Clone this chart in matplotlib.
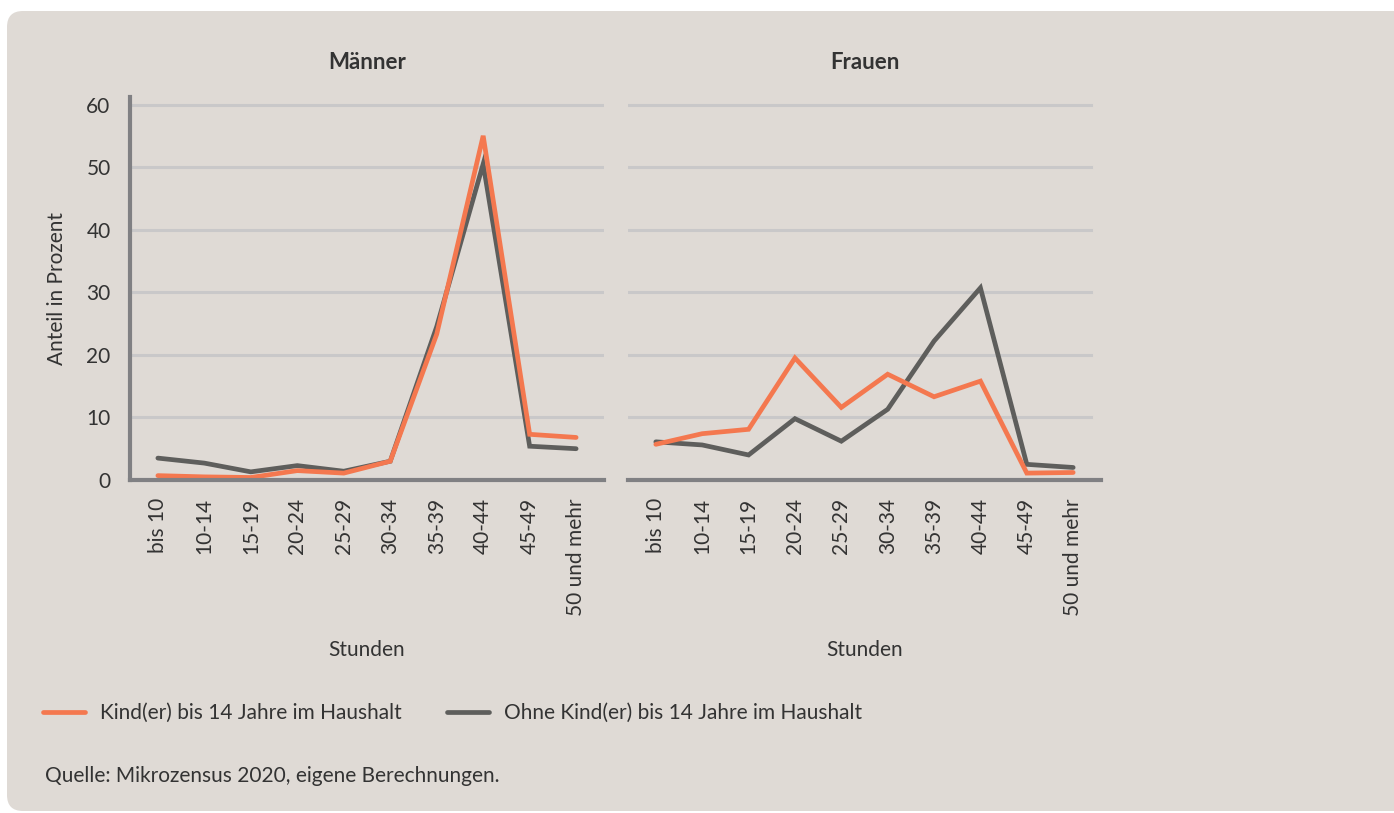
import matplotlib
matplotlib.use('Agg')
import matplotlib.pyplot as plt
from matplotlib.patches import FancyBboxPatch

plt.rcParams['font.family'] = ['Lato', 'DejaVu Sans']

stunden = ['bis 10', '10-14', '15-19', '20-24', '25-29', '30-34',
           '35-39', '40-44', '45-49', '50 und mehr']
maenner_kind = [0.7, 0.5, 0.4, 1.5, 1.1, 3.0, 23.3, 55.0, 7.3, 6.8]
maenner_ohne = [3.5, 2.7, 1.3, 2.3, 1.4, 3.0, 24.5, 50.5, 5.4, 5.0]
frauen_kind = [5.7, 7.4, 8.1, 19.5, 11.6, 16.9, 13.3, 15.8, 1.1, 1.2]
frauen_ohne = [6.1, 5.6, 4.0, 9.8, 6.2, 11.3, 22.2, 30.7, 2.5, 2.0]
y_ticks = [0, 10, 20, 30, 40, 50, 60]

label_kind = 'Kind(er) bis 14 Jahre im Haushalt'
label_ohne = 'Ohne Kind(er) bis 14 Jahre im Haushalt'

ORANGE = '#f4784f'
GRAY = '#5e5e5c'
SPINE = '#808083'
GRID = '#c9c8c9'
BG = '#dfdad5'
TXT = '#333333'

W, H = 1394, 813
fig = plt.figure(figsize=(W / 100, H / 100), dpi=100, facecolor='white')

# beige panel with rounded corners (behind the axes)
bg = FancyBboxPatch((0.07, 0.02), 14.5, 8.13 - 0.02 - 0.11,
                    boxstyle='round,pad=0,rounding_size=0.16',
                    transform=fig.dpi_scale_trans, facecolor=BG,
                    edgecolor='none', zorder=-1)
fig.patches.append(bg)


def px_axes(left, right, top, bottom):
    return fig.add_axes([left / W, (H - bottom) / H,
                         (right - left) / W, (bottom - top) / H])


ax1 = px_axes(130, 604, 97, 480)
ax2 = px_axes(628, 1101, 97, 480)

x = list(range(len(stunden)))
panels = [(ax1, 'Männer', maenner_kind, maenner_ohne, 1.0),
          (ax2, 'Frauen', frauen_kind, frauen_ohne, 0.979)]

for ax, title, kind, ohne, grid_end in panels:
    ax.set_facecolor('none')
    ax.set_xlim(-0.6, 9.6)
    ax.set_ylim(0, 61.2)
    for v in y_ticks[1:]:
        ax.axhline(v, xmin=0, xmax=grid_end, color=GRID, lw=2.2, zorder=1)
    l_ohne, = ax.plot(x, ohne, color=GRAY, lw=3.4, solid_capstyle='round',
                      solid_joinstyle='miter', zorder=3, label=label_ohne)
    l_kind, = ax.plot(x, kind, color=ORANGE, lw=3.4, solid_capstyle='round',
                      solid_joinstyle='miter', zorder=4, label=label_kind)
    for s in ['top', 'right']:
        ax.spines[s].set_visible(False)
    ax.spines['bottom'].set_color(SPINE)
    ax.spines['bottom'].set_linewidth(3)
    ax.spines['bottom'].set_zorder(5)
    ax.spines['left'].set_color(SPINE)
    ax.spines['left'].set_linewidth(3)
    ax.set_xticks(x)
    ax.set_xticklabels(stunden, rotation=90, va='top', ha='center')
    ax.set_yticks(y_ticks)
    ax.tick_params(axis='both', length=0, labelsize=15, colors=TXT)
    ax.tick_params(axis='x', pad=13)
    ax.tick_params(axis='y', pad=14)
    ax.set_title(title, fontsize=16, fontweight='bold', color=TXT, pad=20)
    cx = (ax.get_position().x0 + ax.get_position().x1) / 2
    fig.text(cx, 1 - 650 / H, 'Stunden', ha='center', va='center',
             fontsize=15, color=TXT)

ax2.spines['left'].set_visible(False)
ax2.tick_params(axis='y', labelleft=False)
ax1.set_ylabel('Anteil in Prozent', fontsize=15, color=TXT, labelpad=14)

fig.legend(handles=[l_kind, l_ohne], loc='center left',
           bbox_to_anchor=(43 / W, 1 - 713 / H), ncol=2, frameon=False,
           fontsize=15, handlelength=2.0, handletextpad=0.72,
           columnspacing=2.2, borderpad=0, borderaxespad=0,
           labelcolor=TXT)

fig.text(45 / W, 1 - 776 / H, 'Quelle: Mikrozensus 2020, eigene Berechnungen.',
         ha='left', va='center', fontsize=15, color=TXT)

fig.savefig('out.png', dpi=100, facecolor='white')
